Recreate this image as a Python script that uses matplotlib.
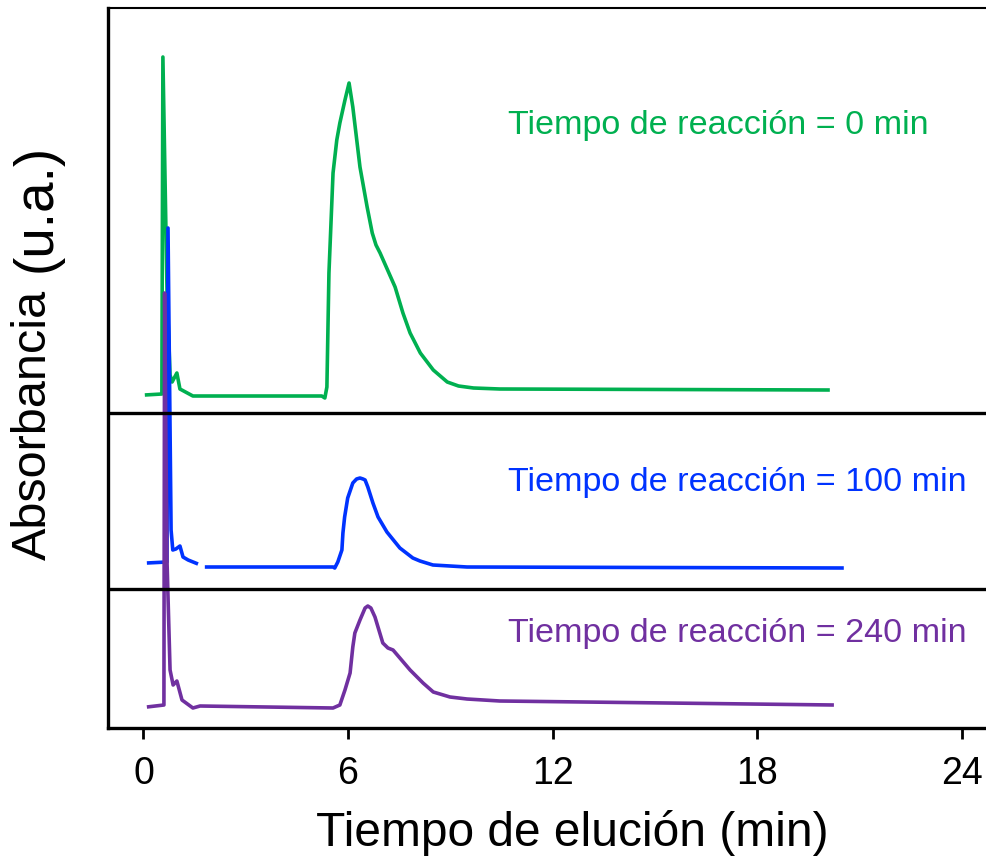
import numpy as np
import matplotlib
matplotlib.use("Agg")
import matplotlib.pyplot as plt

plt.rcParams['font.family'] = ['Liberation Sans', 'DejaVu Sans']

# elution time (min) and absorbance (a.u.)
t_0 = [0.04, 0.54, 0.57, 0.69, 0.78, 0.84, 0.98, 1.07, 1.45, 5.23, 5.32, 5.38,
       5.44, 5.56, 5.67, 5.76, 5.91, 6.03, 6.14, 6.35, 6.56, 6.71, 6.82, 6.94,
       7.38, 7.61, 7.82, 8.12, 8.50, 8.91, 9.24, 9.68, 10.45, 20.13]
abs_0 = [1, 2, 339, 106, 21, 14, 23, 7, 0, 0, -2, 9, 123, 223, 256, 273, 296,
         313, 289, 229, 189, 163, 151, 143, 109, 83, 63, 43, 26, 14, 10, 8, 7, 6]

t_100 = [0.10, 0.69, 0.72, 0.81, 0.86, 0.95, 1.07, 1.16, 1.31, 1.60, np.nan,
         1.80, 5.56, 5.61, 5.70, 5.82, 5.85, 5.90, 5.99, 6.14, 6.25, 6.35, 6.44,
         6.50, 6.58, 6.73, 6.88, 7.14, 7.52, 7.90, 8.11, 8.49, 8.99, 9.49, 20.54]
abs_100 = [4, 5, 339, 37, 17, 18, 21, 10, 7, 3, np.nan,
           0, 0, -1, 5, 17, 34, 50, 69, 84, 88, 89, 88, 87, 80, 64, 50, 35, 19,
           9, 6, 2, 1, 0, -1]

t_240 = [0.10, 0.60, 0.62, 0.69, 0.78, 0.87, 0.98, 1.13, 1.45, 1.66, 5.56, 5.76,
         5.91, 6.06, 6.14, 6.20, 6.35, 6.50, 6.58, 6.67, 6.79, 7.02, 7.17, 7.32,
         7.52, 7.82, 8.20, 8.50, 8.99, 9.49, 10.45, 20.25]
abs_240 = [0, 2, 414, 147, 37, 22, 26, 7, -1, 1, -1, 2, 17, 34, 60, 74, 87, 99,
           101, 99, 90, 64, 59, 57, 49, 37, 24, 15, 10, 8, 6, 2]

labels = ["Tiempo de reacción = 0 min",
          "Tiempo de reacción = 100 min",
          "Tiempo de reacción = 240 min"]
colors = ["#00b050", "#0033ff", "#7030a0"]
offsets = [332, 161, 21]      # vertical stacking of the traces
label_y = [594, 237, 86]
panel_lines = [315, 139]

fig = plt.figure(figsize=(9.87, 8.61), dpi=100)
ax = fig.add_axes([108 / 987, 133 / 861, 879 / 987, 720 / 861])

series = [(t_0, abs_0), (t_100, abs_100), (t_240, abs_240)]
for (t, a), c, off, lab, ly in zip(series, colors, offsets, labels, label_y):
    ax.plot(t, np.array(a, dtype=float) + off, color=c, lw=2.6, clip_on=False,
            solid_joinstyle='round', solid_capstyle='butt')
    ax.text(10.7, ly, lab, color=c, fontsize=24.6, va='baseline', ha='left')

for y in panel_lines:
    ax.axhline(y, color='black', lw=2.4)

ax.set_xlim(-1.04, 24.74)
ax.set_ylim(0, 720)
ax.set_xticks([0, 6, 12, 18, 24])
ax.set_yticks([])
ax.tick_params(axis='x', direction='out', length=8, width=2, labelsize=27, pad=12)
ax.spines['right'].set_visible(False)
ax.spines['top'].set_linewidth(1.5)
ax.spines['left'].set_linewidth(2.4)
ax.spines['bottom'].set_linewidth(2.4)
ax.set_xlabel("Tiempo de elución (min)", fontsize=34.5, labelpad=13, x=0.528)

fig.text(46 / 987, 1 - 560 / 861, "Absorbancia", fontsize=35, rotation=90,
         rotation_mode='anchor', ha='left', va='baseline')
fig.text(51 / 987, 1 - 272 / 861, "(u.a.)", fontsize=39.5, rotation=90,
         rotation_mode='anchor', ha='left', va='baseline')

fig.savefig("out.png", dpi=100)
